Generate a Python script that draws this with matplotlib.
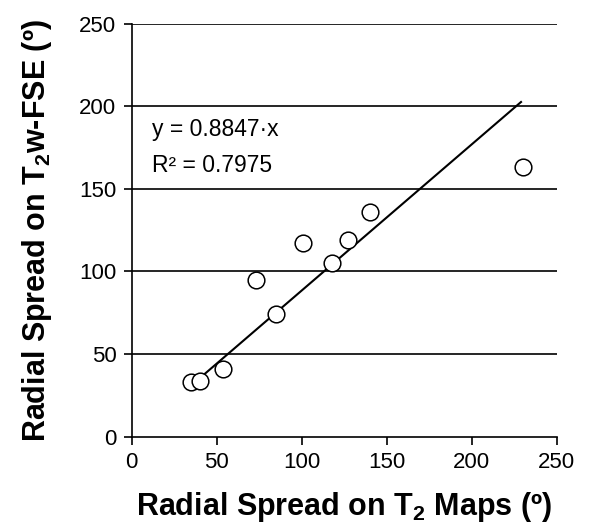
import matplotlib
matplotlib.use("Agg")
import matplotlib.pyplot as plt
import numpy as np

plt.rcParams['font.family'] = ['Liberation Sans', 'DejaVu Sans']
plt.rcParams['mathtext.fontset'] = 'custom'
plt.rcParams['mathtext.rm'] = 'Liberation Sans'
plt.rcParams['mathtext.bf'] = 'Liberation Sans:bold'

# radial spread, T2 maps (x) vs T2w-FSE (y)
t2Maps = [35, 40, 54, 73, 85, 101, 118, 127, 140, 230]
t2wFse = [33, 34, 41, 95, 74, 117, 105, 119, 136, 163]
slope = 0.8847
r2 = 0.7975
fitRange = [42, 229]

fig = plt.figure(figsize=(5.91, 5.31), dpi=100)
ax = fig.add_axes([0.2228, 0.1776, 0.7192, 0.7778])

ax.set_xlim(0, 250)
ax.set_ylim(0, 250)
ax.set_xticks([0, 50, 100, 150, 200, 250])
ax.set_yticks([0, 50, 100, 150, 200, 250])

# horizontal grid only
for yv in [50, 100, 150, 200, 250]:
    ax.axhline(yv, color='black', linewidth=1.2, zorder=1)

xFit = np.array(fitRange)
ax.plot(xFit, slope * xFit, color='black', linewidth=1.5, zorder=2)
ax.plot(t2Maps, t2wFse, linestyle='none', marker='o', markersize=12,
        markerfacecolor='white', markeredgecolor='black', markeredgewidth=1.1, zorder=3)

ax.text(12, 186, 'y = ' + str(slope) + '\u00b7x', fontsize=16.5, va='center')
ax.text(12, 164, 'R\u00b2 = ' + str(r2), fontsize=16.5, va='center')

ax.spines['top'].set_visible(False)
ax.spines['right'].set_visible(False)
ax.spines['left'].set_linewidth(1.2)
ax.spines['bottom'].set_linewidth(1.2)
ax.tick_params(direction='out', length=6, width=1.2, labelsize=16, pad=5)

ax.set_xlabel('Radial Spread on T$_{\\mathbf{2}}$ Maps (\u00ba)', fontsize=22, fontweight='bold', labelpad=12)
ax.set_ylabel('Radial Spread on T$_{\\mathbf{2}}$w-FSE (\u00ba)', fontsize=22, fontweight='bold', labelpad=18)

fig.savefig('out.png', dpi=100)
plt.close()
